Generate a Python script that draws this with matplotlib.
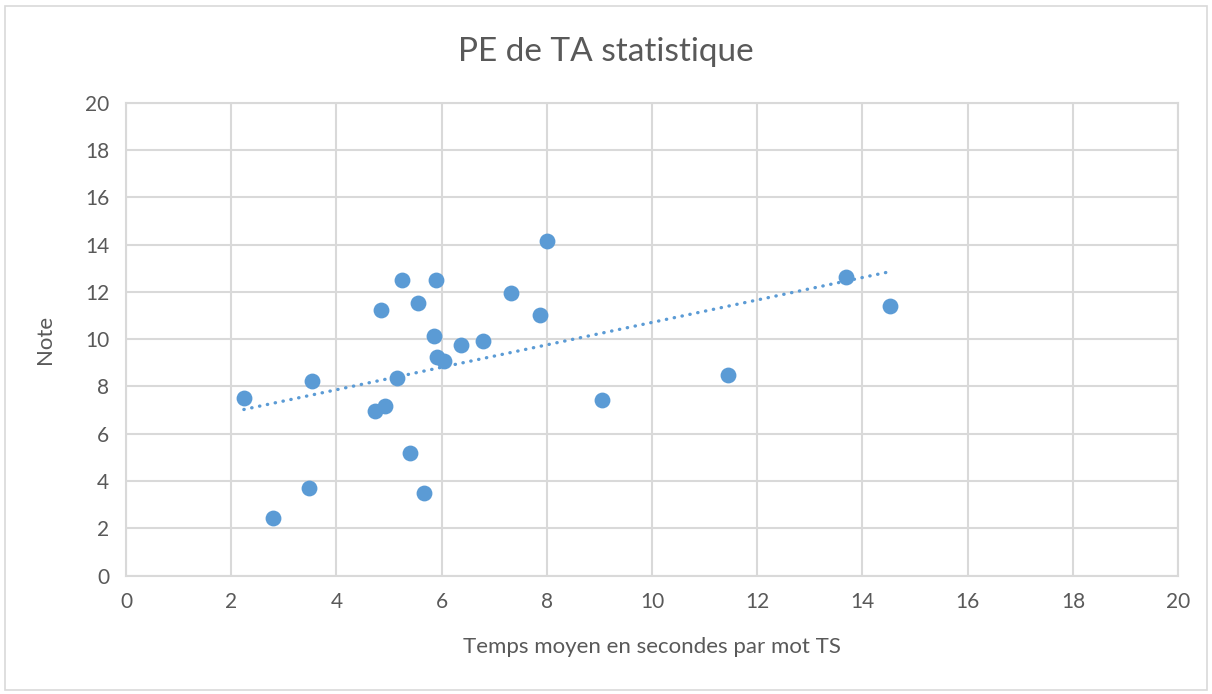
import numpy as np
import matplotlib
matplotlib.use("Agg")
import matplotlib.pyplot as plt
from matplotlib.patches import Rectangle

# Temps moyen (s) par mot TS vs note
temps = [2.24, 2.80, 3.48, 3.54, 4.74, 4.92, 4.84, 5.15, 5.24, 5.39, 5.55, 5.66,
         5.90, 5.86, 5.91, 6.04, 6.36, 6.78, 7.31, 7.87, 8.00, 9.04, 11.44, 13.69, 14.53]
note = [7.53, 2.42, 3.69, 8.24, 6.98, 7.18, 11.25, 8.37, 12.52, 5.20, 11.52, 3.50,
        12.49, 10.15, 9.25, 9.09, 9.77, 9.91, 11.96, 11.03, 14.16, 7.42, 8.47, 12.65, 11.39]
ticks = [0, 2, 4, 6, 8, 10, 12, 14, 16, 18, 20]

BLUE = "#5b9bd5"
GRID = "#d9d9d9"
TEXT = "#595959"

plt.rcParams["font.family"] = ["Lato", "DejaVu Sans"]

fig = plt.figure(figsize=(12.12, 6.94), dpi=100)
ax = fig.add_axes([0.104, 0.1707, 0.868, 0.681])

ax.scatter(temps, note, s=130, color=BLUE, zorder=3, linewidths=0)

# linear trendline over the data range
x = np.array(temps)
a, b = np.polyfit(x, np.array(note), 1)
xs = np.array([x.min(), x.max()])
ax.plot(xs, a * xs + b, color=BLUE, lw=2.4, linestyle=(0, (0.1, 2.3)),
        dash_capstyle="round", zorder=2)

ax.set_xlim(0, 20)
ax.set_ylim(0, 20)
ax.set_xticks(ticks)
ax.set_yticks(ticks)
ax.grid(True, color=GRID, lw=1.5, zorder=0)
ax.set_axisbelow(True)
for s in ax.spines.values():
    s.set_color(GRID)
    s.set_linewidth(1.5)
ax.tick_params(length=0, labelsize=15, colors=TEXT, pad=12)

ax.set_xlabel("Temps moyen en secondes par mot TS", fontsize=16, color=TEXT, labelpad=18)
ax.set_ylabel("Note", fontsize=16, color=TEXT, labelpad=22)
fig.text(0.5, 0.925, "PE de TA statistique", ha="center", va="center",
         fontsize=24, color=TEXT)

fig.patches.append(Rectangle((0.004, 0.006), 0.992, 0.986, transform=fig.transFigure,
                             fill=False, edgecolor=GRID, lw=1.2))

fig.savefig("out.png", dpi=100, facecolor="white")
